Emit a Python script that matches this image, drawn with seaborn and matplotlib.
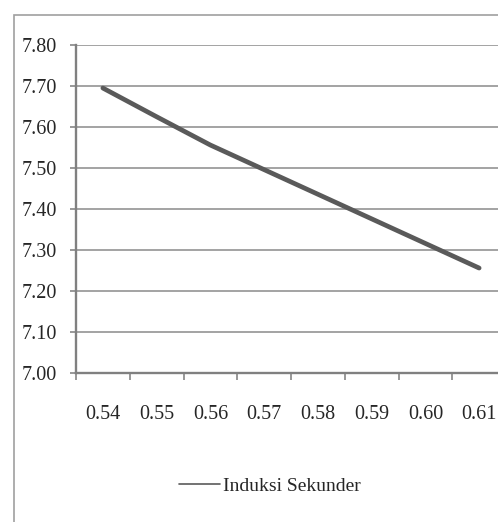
import matplotlib.pyplot as plt
import seaborn as sns
import numpy as np
from matplotlib.patches import Rectangle

# Induksi sekunder terhadap nilai x (sumbu kategori)

kategori = ["0.54", "0.55", "0.56", "0.57", "0.58", "0.59", "0.60", "0.61"]
induksi = [7.695, 7.625, 7.556, 7.496, 7.436, 7.376, 7.316, 7.256]
yticks = [7.00, 7.10, 7.20, 7.30, 7.40, 7.50, 7.60, 7.70, 7.80]

sns.set_style("white")
plt.rcParams["font.family"] = ["Liberation Serif", "DejaVu Serif"]

fig = plt.figure(figsize=(4.98, 5.22), dpi=100)
ax = fig.add_axes([76 / 498, 1 - 373 / 522, 430 / 498, 328 / 522])

pos = np.arange(len(kategori))
sns.lineplot(x=pos, y=induksi, ax=ax, color="#5a5a5a", linewidth=3.4,
             label="Induksi Sekunder", legend=False)

ax.set_xlim(-0.5, len(kategori) - 0.5)
ax.set_ylim(7.0, 7.8)
ax.set_yticks(yticks)
ax.set_yticklabels([f"{v:.2f}" for v in yticks])
ax.set_xticks(pos)
ax.set_xticklabels(kategori)
ax.set_xticks(np.arange(len(kategori) + 1) - 0.5, minor=True)

ax.grid(axis="y", color="#8a8a8a", linewidth=1.1)
ax.set_axisbelow(True)
ax.set_xlabel("")
ax.set_ylabel("")

for s in ["top", "right"]:
    ax.spines[s].set_visible(False)
for s in ["left", "bottom"]:
    ax.spines[s].set_color("#808080")
    ax.spines[s].set_linewidth(1.7)

ax.tick_params(axis="y", which="major", direction="out", length=4, width=1.2,
               color="#868686", pad=10, labelsize=14.5, left=True)
ax.tick_params(axis="x", which="major", length=0, pad=23, labelsize=14.5)
ax.tick_params(axis="x", which="minor", direction="out", length=5, width=1.2,
               color="#868686", bottom=True)

leg = fig.legend(handles=ax.get_lines()[:1], labels=["Induksi Sekunder"],
                 loc="center", bbox_to_anchor=(270 / 498, 1 - 486 / 522),
                 frameon=False, fontsize=14, handlelength=2.1, handletextpad=0.2)
for h in leg.get_lines():
    h.set_linewidth(1.2)

# bingkai luar
fig.add_artist(Rectangle((14 / 498, -0.1), 1.2, 1.1 - 15 / 522,
                         transform=fig.transFigure, fill=False,
                         edgecolor="#a0a0a0", linewidth=1.2))

fig.savefig("out.png", dpi=100)
